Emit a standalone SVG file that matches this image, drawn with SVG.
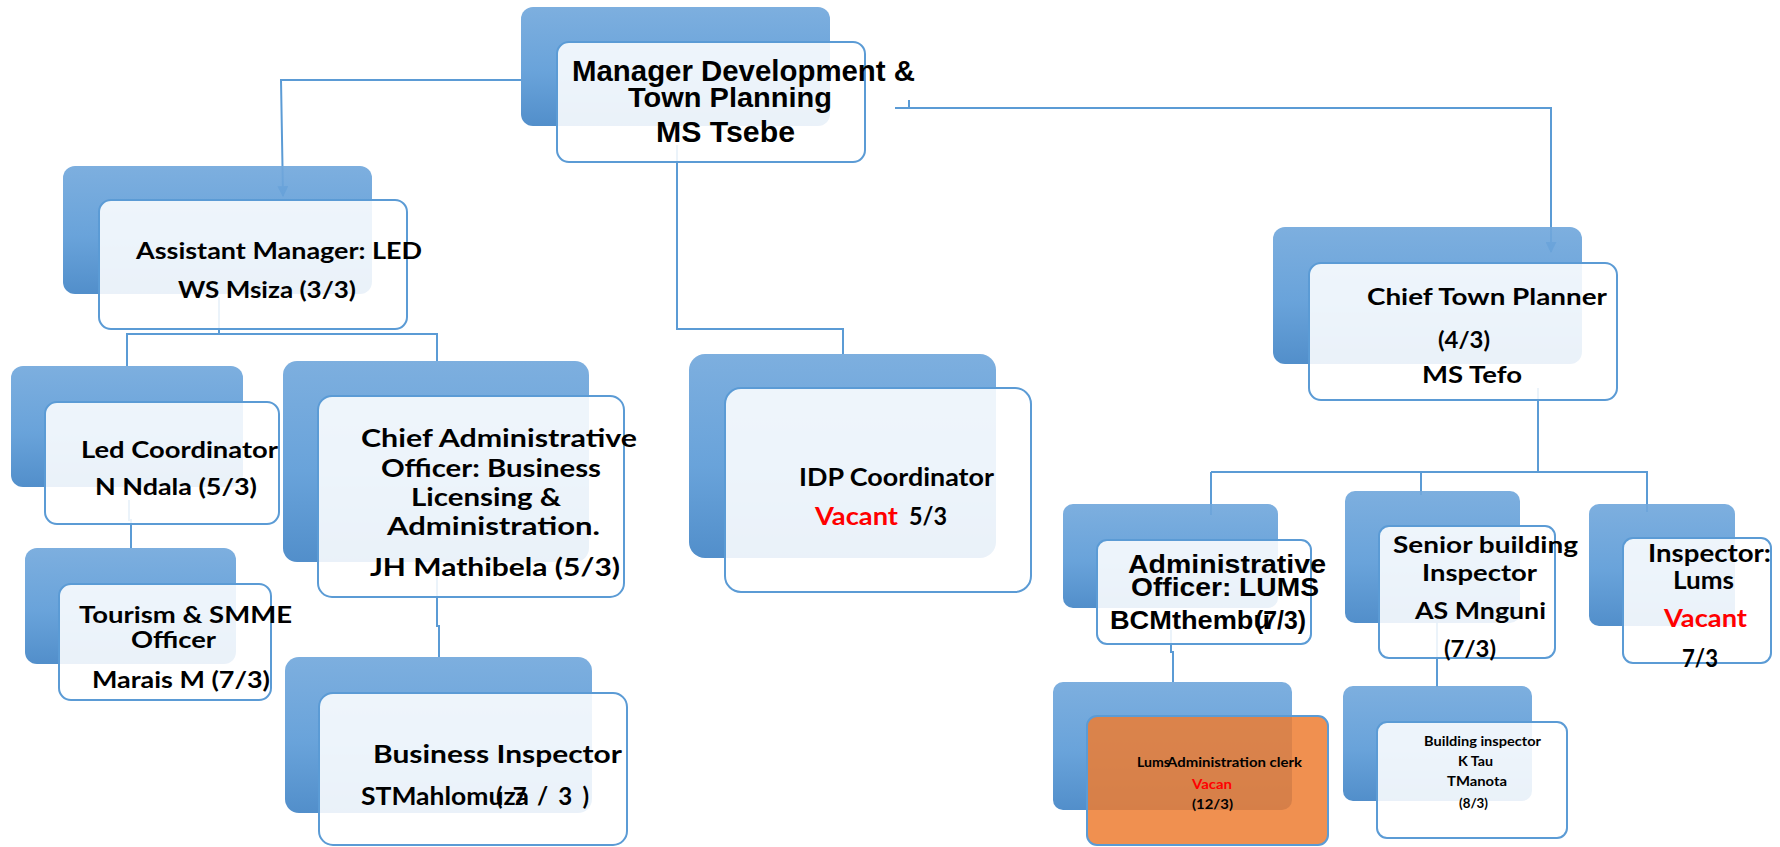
<svg xmlns="http://www.w3.org/2000/svg" width="1780" height="847" viewBox="0 0 1780 847">
<defs>
<linearGradient id="bg" x1="0" y1="0" x2="0" y2="1">
<stop offset="0" stop-color="#72A8DC"/>
<stop offset="0.55" stop-color="#5C9BD7"/>
<stop offset="1" stop-color="#4385C6"/>
</linearGradient>
<marker id="arr" viewBox="0 0 10 10" refX="9" refY="5" markerWidth="5.5" markerHeight="5.5" orient="auto" markerUnits="strokeWidth">
<path d="M0,0 L10,5 L0,10 z" fill="#5B9BD5"/>
</marker>
<style>
.back{fill:url(#bg);fill-opacity:0.92}
.front{fill:#ffffff;fill-opacity:0.88;stroke:#5B9BD5;stroke-width:2}
.orange{fill:#ED7D31;fill-opacity:0.85;stroke:#5B9BD5;stroke-width:2}
.c{fill:none;stroke:#5B9BD5;stroke-width:2}
.t{font-family:Lato,"Liberation Sans",sans-serif;font-weight:bold;fill:#000}
.a{font-family:"Liberation Sans",Arial,sans-serif;font-weight:bold;fill:#000}
.red{fill:#FF0000}
</style>
</defs>
<rect width="1780" height="847" fill="#ffffff"/>
<g id="connectors">
<path class="c" d="M521,80 H281 L283,196" marker-end="url(#arr)"/>
<path class="c" d="M909,100 V108 M895,108 H1551 V252" marker-end="url(#arr)"/>
<path class="c" d="M677,145 V329 H843 V354"/>
<path class="c" d="M219,297 V334 H127 V366 M219,334 H437 V361"/>
<path class="c" d="M129,500 V520 H131 V548"/>
<path class="c" d="M437,573 V626 H439 V657"/>
<path class="c" d="M1538,388 V472 M1211,472 H1647 V512 M1211,472 V515 M1421,472 V495"/>
<path class="c" d="M1171,630 V652 H1173 V682"/>
<path class="c" d="M1437,622 V687"/>
</g>
<g id="manager">
<rect class="back" x="521" y="7" width="309" height="119" rx="12"/>
<rect class="front" x="557" y="42" width="308" height="120" rx="12"/>
<text class="a" font-size="29" x="572" y="81" textLength="343" lengthAdjust="spacingAndGlyphs">Manager Development &amp;</text>
<text class="a" font-size="28" x="628" y="107" textLength="204" lengthAdjust="spacingAndGlyphs">Town Planning</text>
<text class="a" font-size="29" x="656" y="142" textLength="139" lengthAdjust="spacingAndGlyphs">MS Tsebe</text>
</g>
<g id="asst-manager">
<rect class="back" x="63" y="166" width="309" height="128" rx="12"/>
<rect class="front" x="99" y="200" width="308" height="129" rx="12"/>
<text class="t" font-size="23" x="136" y="259" textLength="286" lengthAdjust="spacingAndGlyphs">Assistant Manager: LED</text>
<text class="t" font-size="23" x="178" y="298" textLength="178" lengthAdjust="spacingAndGlyphs">WS Msiza (3/3)</text>
</g>
<g id="led-coordinator">
<rect class="back" x="11" y="366" width="232" height="121" rx="12"/>
<rect class="front" x="45" y="402" width="234" height="122" rx="12"/>
<text class="t" font-size="23" x="81" y="458" textLength="197" lengthAdjust="spacingAndGlyphs">Led Coordinator</text>
<text class="t" font-size="23" x="95" y="495" textLength="162" lengthAdjust="spacingAndGlyphs">N Ndala (5/3)</text>
</g>
<g id="tourism">
<rect class="back" x="25" y="548" width="211" height="116" rx="12"/>
<rect class="front" x="59" y="584" width="212" height="116" rx="12"/>
<text class="t" font-size="23" x="79" y="623" textLength="213" lengthAdjust="spacingAndGlyphs">Tourism &amp; SMME</text>
<text class="t" font-size="23" x="131" y="648" textLength="85" lengthAdjust="spacingAndGlyphs">Officer</text>
<text class="t" font-size="23" x="92" y="688" textLength="178" lengthAdjust="spacingAndGlyphs">Marais M (7/3)</text>
</g>
<g id="chief-admin">
<rect class="back" x="283" y="361" width="306" height="201" rx="14"/>
<rect class="front" x="318" y="396" width="306" height="201" rx="14"/>
<text class="t" font-size="25" x="361" y="447" textLength="276" lengthAdjust="spacingAndGlyphs">Chief Administrative</text>
<text class="t" font-size="25" x="381" y="477" textLength="220" lengthAdjust="spacingAndGlyphs">Officer: Business</text>
<text class="t" font-size="25" x="411" y="506" textLength="150" lengthAdjust="spacingAndGlyphs">Licensing &amp;</text>
<text class="t" font-size="25" x="387" y="535" textLength="213" lengthAdjust="spacingAndGlyphs">Administration.</text>
<text class="t" font-size="25" x="370" y="576" textLength="250" lengthAdjust="spacingAndGlyphs">JH Mathibela (5/3)</text>
</g>
<g id="business-inspector">
<rect class="back" x="285" y="657" width="307" height="156" rx="14"/>
<rect class="front" x="319" y="693" width="308" height="152" rx="14"/>
<text class="t" font-size="24" x="373" y="763" textLength="249" lengthAdjust="spacingAndGlyphs">Business Inspector</text>
<text class="t" font-size="24" x="361" y="805" textLength="168" lengthAdjust="spacingAndGlyphs">STMahlomuza</text>
<text class="t" font-size="24" x="496" y="805" textLength="93" lengthAdjust="spacing">(7/3)</text>
</g>
<g id="idp-coordinator">
<rect class="back" x="689" y="354" width="307" height="204" rx="16"/>
<rect class="front" x="725" y="388" width="306" height="204" rx="16"/>
<text class="t" font-size="24" x="799" y="486" textLength="195" lengthAdjust="spacingAndGlyphs">IDP Coordinator</text>
<text class="t red" font-size="24" x="815" y="525" textLength="83" lengthAdjust="spacingAndGlyphs">Vacant</text>
<text class="t" font-size="24" x="909" y="525" textLength="38" lengthAdjust="spacingAndGlyphs">5/3</text>
</g>
<g id="chief-town-planner">
<rect class="back" x="1273" y="227" width="309" height="137" rx="12"/>
<rect class="front" x="1309" y="263" width="308" height="137" rx="12"/>
<text class="t" font-size="23" x="1367" y="305" textLength="240" lengthAdjust="spacingAndGlyphs">Chief Town Planner</text>
<text class="t" font-size="23" x="1438" y="348" textLength="52" lengthAdjust="spacingAndGlyphs">(4/3)</text>
<text class="t" font-size="23" x="1422" y="383" textLength="100" lengthAdjust="spacingAndGlyphs">MS Tefo</text>
</g>
<g id="admin-officer-lums">
<rect class="back" x="1063" y="504" width="215" height="104" rx="10"/>
<rect class="front" x="1097" y="540" width="214" height="104" rx="10"/>
<text class="a" font-size="25" x="1128" y="573" textLength="198" lengthAdjust="spacingAndGlyphs">Administrative</text>
<text class="a" font-size="25" x="1131" y="596" textLength="188" lengthAdjust="spacingAndGlyphs">Officer: LUMS</text>
<text class="a" font-size="25" x="1110" y="629" textLength="160" lengthAdjust="spacingAndGlyphs">BCMthembu</text>
<text class="a" font-size="25" x="1255" y="629" textLength="51" lengthAdjust="spacingAndGlyphs">(7/3)</text>
</g>
<g id="lums-clerk">
<rect class="back" x="1053" y="682" width="239" height="128" rx="10"/>
<rect class="orange" x="1087" y="716" width="241" height="129" rx="10"/>
<text class="t" font-size="13" x="1137" y="767" textLength="33" lengthAdjust="spacingAndGlyphs">Lums</text>
<text class="t" font-size="13" x="1167" y="767" textLength="135" lengthAdjust="spacingAndGlyphs">Administration clerk</text>
<text class="t red" font-size="13" x="1192" y="789" textLength="40" lengthAdjust="spacingAndGlyphs">Vacan</text>
<text class="t" font-size="13" x="1192" y="809" textLength="41" lengthAdjust="spacingAndGlyphs">(12/3)</text>
</g>
<g id="senior-building-inspector">
<rect class="back" x="1345" y="491" width="175" height="132" rx="10"/>
<rect class="front" x="1379" y="526" width="176" height="132" rx="10"/>
<text class="t" font-size="23" x="1393" y="553" textLength="185" lengthAdjust="spacingAndGlyphs">Senior building</text>
<text class="t" font-size="23" x="1422" y="581" textLength="115" lengthAdjust="spacingAndGlyphs">Inspector</text>
<text class="t" font-size="23" x="1415" y="619" textLength="131" lengthAdjust="spacingAndGlyphs">AS Mnguni</text>
<text class="t" font-size="23" x="1444" y="657" textLength="52" lengthAdjust="spacingAndGlyphs">(7/3)</text>
</g>
<g id="building-inspector">
<rect class="back" x="1343" y="686" width="189" height="115" rx="10"/>
<rect class="front" x="1377" y="722" width="190" height="116" rx="10"/>
<text class="t" font-size="14" x="1424" y="746" textLength="117" lengthAdjust="spacingAndGlyphs">Building  inspector</text>
<text class="t" font-size="14" x="1458" y="766" textLength="35" lengthAdjust="spacingAndGlyphs">K Tau</text>
<text class="t" font-size="14" x="1447" y="786" textLength="60" lengthAdjust="spacingAndGlyphs">TManota</text>
<text class="t" font-size="14" x="1459" y="808" textLength="29" lengthAdjust="spacingAndGlyphs">(8/3)</text>
</g>
<g id="inspector-lums">
<rect class="back" x="1589" y="504" width="146" height="122" rx="10"/>
<rect class="front" x="1623" y="538" width="148" height="125" rx="10"/>
<text class="t" font-size="24" x="1648" y="562" textLength="123" lengthAdjust="spacingAndGlyphs">Inspector:</text>
<text class="t" font-size="24" x="1673" y="589" textLength="61" lengthAdjust="spacingAndGlyphs">Lums</text>
<text class="t red" font-size="24" x="1664" y="627" textLength="83" lengthAdjust="spacingAndGlyphs">Vacant</text>
<text class="t" font-size="24" x="1682" y="667" textLength="36" lengthAdjust="spacingAndGlyphs">7/3</text>
</g>
</svg>
